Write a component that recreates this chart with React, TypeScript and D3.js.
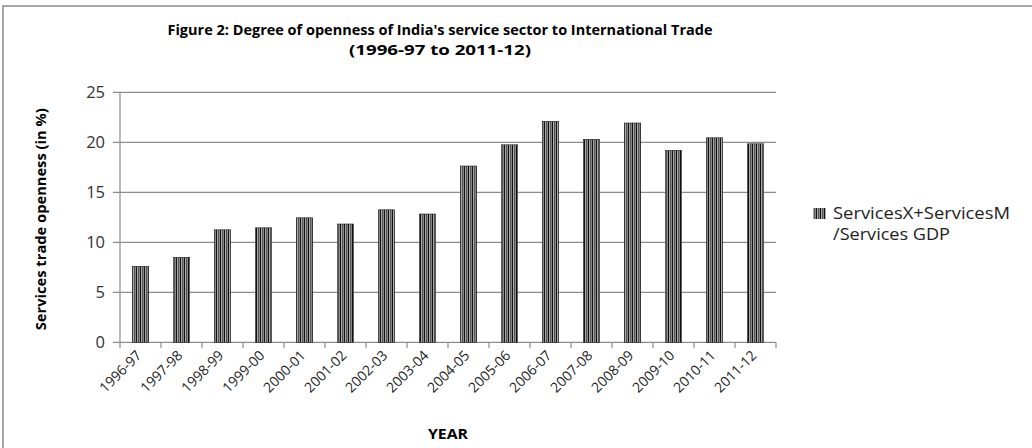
import React from "react";
import * as d3 from "d3";

const categories = ["1996-97","1997-98","1998-99","1999-00","2000-01","2001-02","2002-03","2003-04","2004-05","2005-06","2006-07","2007-08","2008-09","2009-10","2010-11","2011-12"];
const values = [7.6, 8.5, 11.25, 11.45, 12.45, 11.83, 13.25, 12.83, 17.63, 19.75, 22.1, 20.3, 21.93, 19.2, 20.45, 19.85];
const yTicks = [0, 5, 10, 15, 20, 25];
const seriesName = ["ServicesX+ServicesM", "/Services GDP"];
const titleLines = ["Figure 2: Degree of openness of India's service sector to International Trade", "(1996-97 to 2011-12)"];

const W = 1032, H = 448;
const left = 120, right = 776, top = 92.3, bottom = 342.3;

export default function App() {
  const x = d3.scaleBand<string>().domain(categories).range([left, right]).paddingInner(0.6).paddingOuter(0.3);
  const xb = d3.scaleBand<string>().domain(categories).range([left, right]);
  const y = d3.scaleLinear().domain([0, 25]).range([bottom, top]);
  const font = "'Open Sans', 'Liberation Sans', sans-serif";
  return (
    <svg width={W} height={H} style={{ position: "absolute", left: 0, top: 0, background: "#fff" }} fontFamily={font}>
      <defs>
        <pattern id="vstripe" patternUnits="userSpaceOnUse" width={4} height={4} x={0}>
          <rect x={0} y={0} width={4} height={4} fill="#fff" />
          <rect x={0} y={0} width={1} height={4} fill="#111" />
          <rect x={1} y={0} width={1} height={4} fill="#aaa" />
          <rect x={2} y={0} width={1} height={4} fill="#555" />
          <rect x={3} y={0} width={1} height={4} fill="#888" />
        </pattern>
      </defs>
      <rect x={3} y={6} width={1100} height={500} fill="#fff" stroke="#8c8c8c" strokeWidth={1.5} />
      {titleLines.map((t, i) => (
        <text key={i} x={440} y={35 + i * 20} textAnchor="middle" fontSize={14.5} fontWeight="bold" fill="#000"
          textLength={i === 0 ? 545 : 182} lengthAdjust="spacingAndGlyphs">{t}</text>
      ))}
      {yTicks.map((t) => (
        <g key={t}>
          <line x1={113} x2={right} y1={y(t)} y2={y(t)} stroke="#8c8c8c" strokeWidth={1.2} />
          <text x={105} y={y(t) + 6} textAnchor="end" fontSize={16.5} fill="#333">{t}</text>
        </g>
      ))}
      <line x1={left} x2={left} y1={top} y2={bottom} stroke="#8c8c8c" strokeWidth={1.2} />
      {categories.map((c) => (
        <line key={c} x1={xb(c)!} x2={xb(c)!} y1={bottom} y2={bottom + 6} stroke="#8c8c8c" strokeWidth={1.2} />
      ))}
      <line x1={right} x2={right} y1={bottom} y2={bottom + 6} stroke="#8c8c8c" strokeWidth={1.2} />
      {categories.map((c, i) => (
        <rect key={c} x={x(c)!} y={y(values[i])} width={x.bandwidth()} height={bottom - y(values[i])}
          fill="url(#vstripe)" stroke="#222" strokeWidth={0.6} />
      ))}
      {categories.map((c) => {
        const cx = xb(c)! + xb.bandwidth() / 2 + 2;
        const cy = bottom + 14;
        return (
          <text key={c} x={cx} y={cy} transform={`rotate(-45 ${cx} ${cy})`} textAnchor="end" fontSize={14} fill="#222">{c}</text>
        );
      })}
      <text x={448} y={439} textAnchor="middle" fontSize={15} fontWeight="bold" fill="#000" textLength={40} lengthAdjust="spacingAndGlyphs">YEAR</text>
      <text transform={`translate(46 ${(top + bottom) / 2 + 2}) rotate(-90)`} textAnchor="middle" fontSize={15} fontWeight="bold" fill="#000"
        textLength={222} lengthAdjust="spacingAndGlyphs">Services trade openness (in %)</text>
      <rect x={813} y={208} width={13} height={11} fill="url(#vstripe)" />
      {seriesName.map((s, i) => (
        <text key={i} x={833} y={219 + i * 21} fontSize={16} fill="#222"
          textLength={i === 0 ? 177 : 117} lengthAdjust="spacingAndGlyphs">{s}</text>
      ))}
    </svg>
  );
}
